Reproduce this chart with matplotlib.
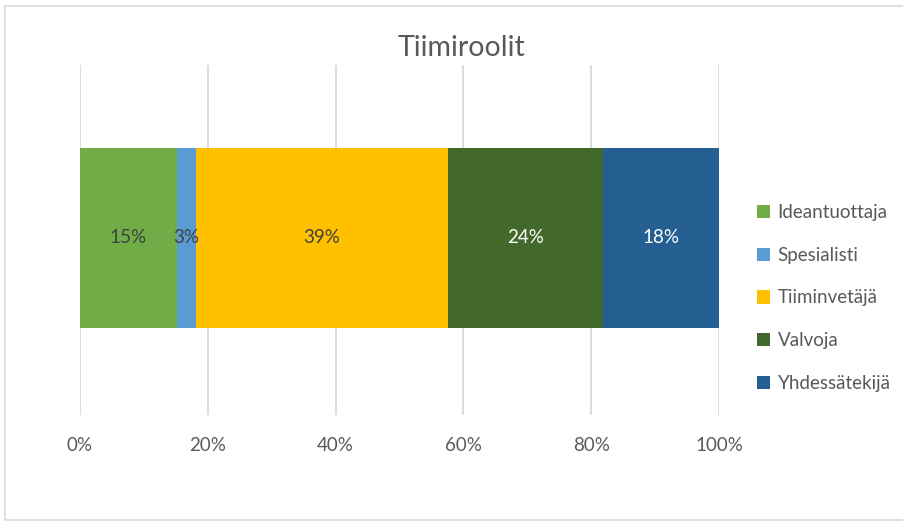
#!/usr/bin/env python3
"""Tiimiroolit: 100% stacked horizontal bar."""

import matplotlib

matplotlib.use("Agg")
import matplotlib.pyplot as plt
from matplotlib.patches import Rectangle

# --- Data ---
ROLES = ["Ideantuottaja", "Spesialisti", "Tiiminvetäjä", "Valvoja", "Yhdessätekijä"]
COUNTS = [5, 1, 13, 8, 6]
XTICKS = [0, 20, 40, 60, 80, 100]

# --- Colors (Excel palette) ---
COLORS = ["#70AD47", "#5B9BD5", "#FFC000", "#43682B", "#255E91"]
LABEL_COLORS = ["#404040", "#404040", "#404040", "white", "white"]
TEXT_GRAY = "#595959"
GRID = "#d9d9d9"


def main() -> None:
    plt.rcParams.update({"font.family": ["Lato", "DejaVu Sans"]})
    fig = plt.figure(figsize=(9.04, 5.23), dpi=100)
    ax = fig.add_axes([80 / 904, 108 / 523, 639 / 904, 350 / 523])

    total = sum(COUNTS)
    shares = [c / total * 100 for c in COUNTS]

    left = 0.0
    handles = []
    for role, share, color, lc in zip(ROLES, shares, COLORS, LABEL_COLORS):
        h = ax.barh(0, share, 0.514, left=left, color=color, label=role)
        handles.append(h)
        ax.text(left + share / 2, 0, f"{share:.0f}%", ha="center", va="center",
                fontsize=13.5, color=lc)
        left += share

    ax.set_xlim(0, 100)
    ax.set_ylim(-0.506, 0.494)
    ax.set_xticks(XTICKS)
    ax.set_xticklabels([f"{t}%" for t in XTICKS], fontsize=13.5, color=TEXT_GRAY)
    ax.set_yticks([])
    ax.tick_params(axis="x", length=0, pad=16)
    ax.grid(axis="x", color=GRID, linewidth=1.3)
    ax.set_axisbelow(True)
    for spine in ax.spines.values():
        spine.set_visible(False)

    fig.text(461 / 904, 1 - 48 / 523, "Tiimiroolit", ha="center", va="center",
             fontsize=20.5, color=TEXT_GRAY)

    fig.legend(handles=handles, loc="center left",
               bbox_to_anchor=(740 / 904, 1 - 298 / 523),
               frameon=False, fontsize=13.5, handlelength=0.7,
               handleheight=0.7, handletextpad=0.4, labelspacing=1.38,
               labelcolor=TEXT_GRAY)

    # chart area border
    fig.patches.append(Rectangle((5 / 904, 3 / 523), 1.0, 514 / 523,
                                 transform=fig.transFigure, fill=False,
                                 edgecolor=GRID, linewidth=1.2))

    fig.savefig("out.png", dpi=100)


if __name__ == "__main__":
    main()
